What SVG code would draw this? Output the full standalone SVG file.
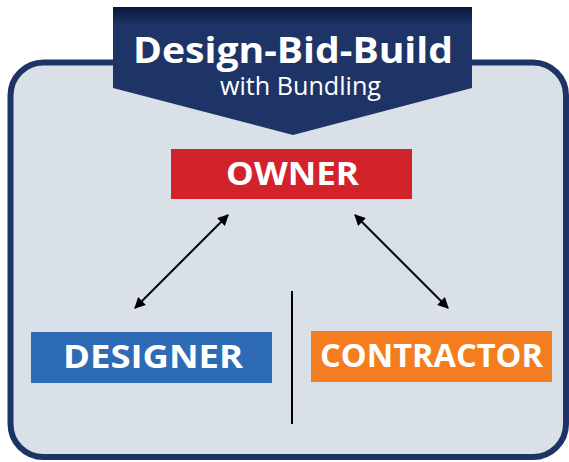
<svg xmlns="http://www.w3.org/2000/svg" width="569" height="462" viewBox="0 0 569 462">
<defs>
<linearGradient id="bannerGrad" x1="0" y1="0" x2="0" y2="1">
<stop offset="0" stop-color="#0a163a"/>
<stop offset="0.14" stop-color="#1f3466"/>
<stop offset="1" stop-color="#1f3466"/>
</linearGradient>
<marker id="arrow" viewBox="0 0 10 10" refX="9" refY="5" markerWidth="6" markerHeight="5.5" orient="auto-start-reverse" markerUnits="strokeWidth">
<path d="M0,0 L10,5 L0,10 Z" fill="#000"/>
</marker>
<style>
.lbl{font-family:"Open Sans","Liberation Sans",sans-serif;font-weight:bold;fill:#fff;text-anchor:middle}
.conn{stroke:#000;stroke-width:2;fill:none}
</style>
</defs>
<g id="frame">
<rect x="10.5" y="62.5" width="555.5" height="394.5" rx="33" ry="33" fill="#d9e0e8" stroke="#1f3466" stroke-width="6"/>
</g>
<g id="banner">
<polygon points="113,7 472,7 472,88 293,135 113,88" fill="url(#bannerGrad)"/>
<text x="293" y="63" class="lbl" font-size="36" textLength="320" lengthAdjust="spacingAndGlyphs">Design-Bid-Build</text>
<text x="300.5" y="95" font-family="Open Sans, Liberation Sans, sans-serif" font-size="25" fill="#fff" text-anchor="middle" textLength="161" lengthAdjust="spacingAndGlyphs">with Bundling</text>
</g>
<g id="connectors">
<line x1="228" y1="215" x2="135" y2="308" class="conn" marker-start="url(#arrow)" marker-end="url(#arrow)"/>
<line x1="355" y1="215" x2="448" y2="308" class="conn" marker-start="url(#arrow)" marker-end="url(#arrow)"/>
<line x1="292" y1="291" x2="292" y2="424" class="conn"/>
</g>
<g id="owner">
<rect x="171" y="149" width="241" height="50" fill="#d2222a"/>
<text x="292.5" y="185" class="lbl" font-size="33" textLength="133" lengthAdjust="spacingAndGlyphs">OWNER</text>
</g>
<g id="designer">
<rect x="31" y="332" width="241" height="51" fill="#2e6bb5"/>
<text x="153" y="368" class="lbl" font-size="32" textLength="180" lengthAdjust="spacingAndGlyphs">DESIGNER</text>
</g>
<g id="contractor">
<rect x="311" y="331" width="241" height="51" fill="#f47d20"/>
<text x="431.5" y="367" class="lbl" font-size="32" textLength="223" lengthAdjust="spacingAndGlyphs">CONTRACTOR</text>
</g>
</svg>
